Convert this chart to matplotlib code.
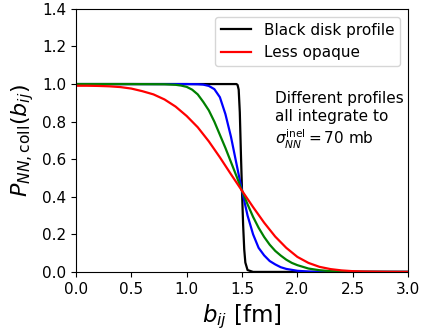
import numpy as np
import matplotlib.pyplot as plt

# values
b_black = [0.0, 1.0, 1.45, 1.46, 1.47, 1.48, 1.49, 1.50, 1.51, 1.52, 1.53, 1.55, 1.60, 3.0]
p_black = [1.0, 1.0, 1.0, 0.995, 0.97, 0.85, 0.63, 0.43, 0.25, 0.12, 0.05, 0.01, 0.0, 0.0]

b_blue = [0.0, 1.0, 1.1, 1.15, 1.2, 1.25, 1.3, 1.35, 1.4, 1.45, 1.5, 1.55, 1.6, 1.65,
          1.7, 1.75, 1.8, 1.85, 1.9, 2.0, 2.1, 2.2, 3.0]
p_blue = [1.0, 1.0, 0.999, 0.997, 0.99, 0.973, 0.93, 0.84, 0.72, 0.575, 0.432, 0.30, 0.20, 0.128,
          0.088, 0.058, 0.04, 0.025, 0.016, 0.006, 0.002, 0.0005, 0.0]

b_green = [0.0, 0.5, 0.8, 0.9, 0.95, 1.0, 1.05, 1.1, 1.15, 1.2, 1.25, 1.3, 1.35, 1.4,
           1.45, 1.5, 1.55, 1.6, 1.65, 1.7, 1.75, 1.8, 1.85, 1.9, 1.95, 2.0, 2.1, 2.2,
           2.3, 2.4, 2.5, 3.0]
p_green = [1.0, 1.0, 0.999, 0.996, 0.992, 0.985, 0.97, 0.945, 0.905, 0.86, 0.80, 0.73, 0.66, 0.585,
           0.51, 0.432, 0.36, 0.293, 0.235, 0.186, 0.145, 0.112, 0.087, 0.065, 0.048, 0.036, 0.018, 0.009,
           0.004, 0.002, 0.001, 0.0]

b_red = [0.0, 0.1, 0.2, 0.3, 0.4, 0.5, 0.6, 0.7, 0.8, 0.9, 1.0, 1.1, 1.2, 1.3, 1.4,
         1.5, 1.6, 1.7, 1.8, 1.9, 2.0, 2.1, 2.2, 2.3, 2.4, 2.5, 2.6, 2.8, 3.0]
p_red = [0.991, 0.991, 0.990, 0.988, 0.984, 0.976, 0.962, 0.945, 0.918, 0.88, 0.83, 0.77, 0.695, 0.61, 0.52,
         0.432, 0.345, 0.262, 0.188, 0.128, 0.08, 0.048, 0.027, 0.015, 0.008, 0.004, 0.002, 0.0005, 0.0]

fig = plt.figure(figsize=(4.22, 3.3), dpi=100)
ax = fig.add_axes([0.180, 0.176, 0.787, 0.797])

ax.plot(b_black, p_black, color='k', lw=1.6, label='Black disk profile')
ax.plot(b_blue, p_blue, color='b', lw=1.6)
ax.plot(b_green, p_green, color='g', lw=1.6)
ax.plot(b_red, p_red, color='r', lw=1.6, label='Less opaque')

ax.set_xlim(0, 3)
ax.set_ylim(0, 1.4)
ax.set_xticks(np.arange(0, 3.01, 0.5))
ax.set_yticks(np.arange(0, 1.41, 0.2))
ax.tick_params(labelsize=11)

ax.set_xlabel(r'$b_{ij}$ [fm]', fontsize=16.5)
ax.set_ylabel(r'$P_{NN,\mathrm{coll}}(b_{ij})$', fontsize=16)

ax.legend(loc='upper right', fontsize=11)
ax.text(1.8, 0.965, 'Different profiles\nall integrate to\n' + r'$\sigma_{NN}^{\rm inel} = 70$ mb',
        fontsize=11, va='top', ha='left', linespacing=1.25)

fig.savefig('out.png', dpi=100)
